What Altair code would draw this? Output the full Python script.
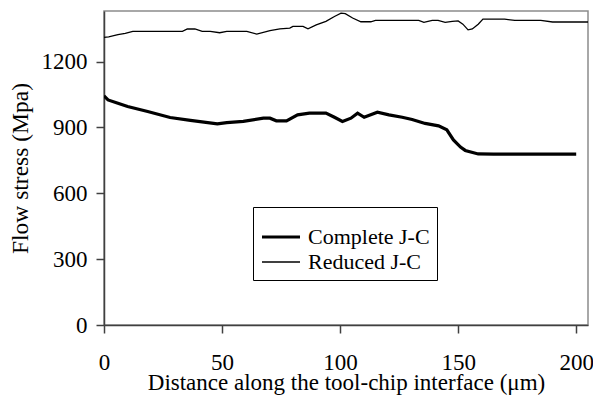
import altair as alt
import pandas as pd

series_names = ["Complete J-C", "Reduced J-C"]

x_complete = [0, 1.7, 5.9, 10, 18.5, 28, 36.6, 48, 52, 59, 67.5, 70.3, 73, 77.3, 82, 87, 94,
              97.6, 101, 104.6, 107.4, 110.2, 115.8, 120.7, 126.3, 130.5, 136, 141.7, 145.2,
              148, 151, 153, 158.5, 165, 180, 200]
y_complete = [1044, 1025, 1010, 995, 972, 945, 932, 916, 922, 927, 942, 942, 930, 930, 957, 965, 965,
              946, 927, 942, 965, 946, 969, 957, 946, 936, 918, 907, 889,
              843, 810, 795, 779, 778, 778, 778]

x_reduced = [0, 2, 5.9, 9, 12.2, 33.2, 35.3, 38.5, 41.6, 45, 49, 52, 60.5, 64.7, 70.3, 74.5, 78.7,
             80, 84.3, 86.4, 89.9, 94, 97.6, 100.4, 102.2, 105.3, 108.8, 113, 115, 133.3, 135.5,
             139, 141.5, 144.5, 147.5, 150, 152, 154.2, 156, 158.5, 160.5, 169.7, 174, 185, 190, 205]
y_reduced = [1310, 1312, 1322, 1328, 1337, 1337, 1348, 1348, 1337, 1337, 1331, 1337, 1337, 1325, 1341, 1349, 1352,
             1360, 1360, 1349, 1367, 1383, 1405, 1420, 1418, 1398, 1381, 1381, 1387, 1387, 1378,
             1387, 1387, 1378, 1383, 1385, 1370, 1344, 1348, 1370, 1393, 1393, 1387, 1387, 1380, 1380]

x_ticks = [0, 50, 100, 150, 200]
y_ticks = [0, 300, 600, 900, 1200]

df = pd.concat([
    pd.DataFrame({"x": x_complete, "y": y_complete, "series": series_names[0], "order": range(len(x_complete))}),
    pd.DataFrame({"x": x_reduced, "y": y_reduced, "series": series_names[1], "order": range(len(x_reduced))}),
])

FONT = "Liberation Serif"
W, H = 484, 314

chart = alt.Chart(df).mark_line(color="black", clip=True).encode(
    x=alt.X("x:Q",
            scale=alt.Scale(domain=[0, 205], nice=False, zero=False),
            axis=alt.Axis(values=x_ticks, format="d", title="Distance along the tool-chip interface (μm)",
                          labelFlush=False, labelPadding=18,
                          labelFont=FONT, labelFontSize=23, titleFont=FONT, titleFontSize=23,
                          titleX=W / 2, titleY=64, titleBaseline="alphabetic")),
    y=alt.Y("y:Q",
            scale=alt.Scale(domain=[0, 1430], nice=False),
            axis=alt.Axis(values=y_ticks, format="d", title="Flow stress (Mpa)",
                          labelFlush=False, labelPadding=9,
                          labelFont=FONT, labelFontSize=23, titleFont=FONT, titleFontSize=23.5,
                          titleX=-77, titleY=H / 2, titleBaseline="alphabetic")),
    strokeWidth=alt.StrokeWidth("series:N",
                                scale=alt.Scale(domain=series_names, range=[3.2, 1.3]),
                                legend=alt.Legend(title=" ", titleFontSize=8, titlePadding=4,
                                                  orient="none", legendX=149, legendY=196,
                                                  fillColor="white", strokeColor="black",
                                                  padding=7, rowPadding=3, clipHeight=22,
                                                  symbolType="stroke", symbolSize=1444,
                                                  symbolStrokeColor="black",
                                                  labelFont=FONT, labelFontSize=22, labelColor="black",
                                                  labelOffset=6)),
    order="order:Q",
).properties(
    width=W, height=H,
    autosize=alt.AutoSizeParams(type="none"),
    padding={"left": 96, "top": 3, "right": 5, "bottom": 70},
).configure_view(
    stroke="#8c8c8c", strokeWidth=1.5
).configure_axis(
    grid=False,
    domainColor="#404040", domainWidth=1.5,
    tickColor="#404040", tickWidth=1.5, tickSize=8,
    labelColor="black",
    titleFontWeight="normal", titleColor="black",
).configure_legend(
    strokeWidth=1
)

chart.save("out.html", embed_options={"renderer": "svg", "actions": False})
